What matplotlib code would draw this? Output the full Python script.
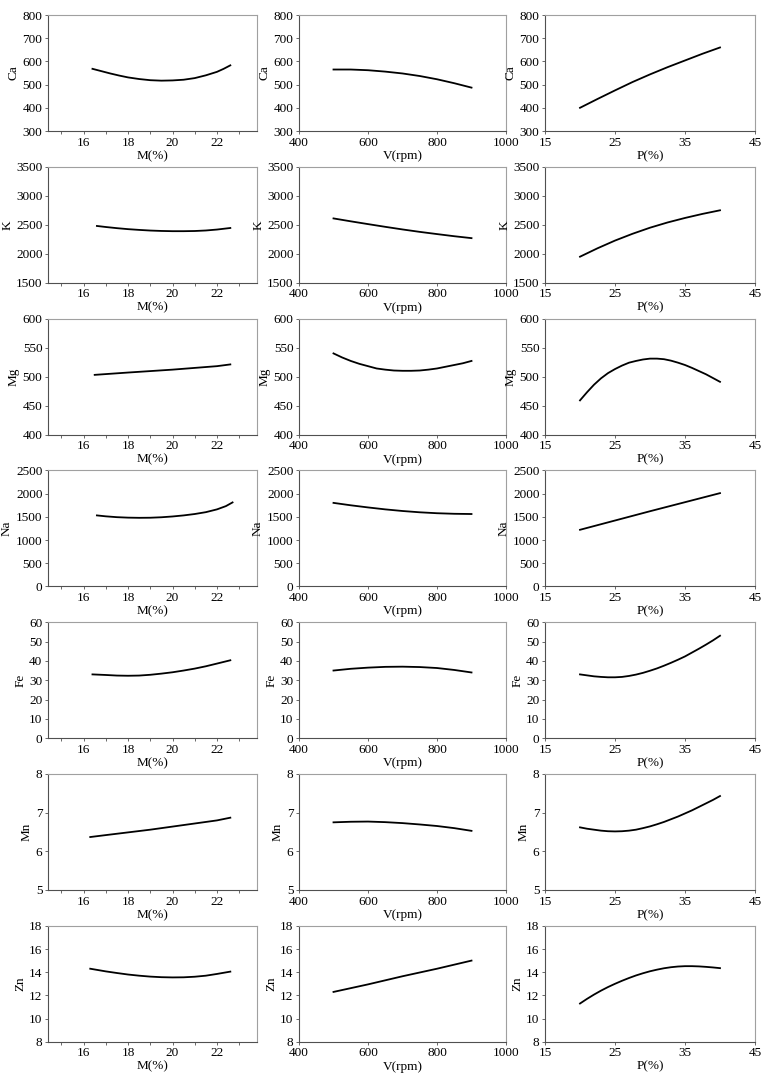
import numpy as np
import matplotlib.pyplot as plt
from matplotlib.ticker import MultipleLocator

plt.rcParams['font.family'] = ['Liberation Serif', 'DejaVu Serif']
plt.rcParams['font.size'] = 9.5

# values
m_ca = [16.4, 16.8, 17.2, 17.6, 18, 18.5, 19, 19.5, 20, 20.5, 21, 21.5, 22, 22.3, 22.6]
ca_m = [568, 558, 548, 539, 531, 524, 519, 517, 518, 521, 528, 540, 555, 568, 583]
v_ca = [500, 550, 600, 650, 700, 750, 800, 850, 900]
ca_v = [565, 565, 562, 556, 548, 537, 523, 506, 487]
p_ca = [20, 22.5, 25, 27.5, 30, 32.5, 35, 37.5, 40]
ca_p = [400, 438, 475, 511, 544, 575, 604, 633, 660]

m_k = [16.6, 17, 17.5, 18, 18.5, 19, 19.5, 20, 20.5, 21, 21.5, 22, 22.6]
k_m = [2480, 2462, 2442, 2425, 2412, 2401, 2394, 2390, 2390, 2393, 2402, 2418, 2445]
v_k = [500, 550, 600, 650, 700, 750, 800, 850, 900]
k_v = [2610, 2560, 2512, 2465, 2420, 2378, 2340, 2303, 2270]
p_k = [20, 22.5, 25, 27.5, 30, 32.5, 35, 37.5, 40]
k_p = [1950, 2095, 2228, 2345, 2450, 2540, 2618, 2688, 2750]

m_mg = [16.5, 18, 20, 22, 22.6]
mg_m = [503, 507, 512, 518, 521]
v_mg = [500, 525, 550, 575, 600, 625, 650, 675, 700, 725, 750, 775, 800, 825, 850, 875, 900]
mg_v = [540, 533, 527, 522, 518, 514, 512, 510.5, 510, 510, 510.5, 512, 514, 517, 520, 523, 527]
p_mg = [20, 21, 22, 23, 24, 25, 26, 27, 28, 29, 30, 31, 32, 33, 34, 35, 36, 37, 38, 39, 40]
mg_p = [459, 473, 486, 497, 506, 513, 519, 524, 527, 529.5, 531, 531, 530, 527.5, 524, 520, 515, 509.5, 504, 497.5, 491]

m_na = [16.6, 17, 17.5, 18, 18.5, 19, 19.5, 20, 20.5, 21, 21.5, 22, 22.4, 22.7]
na_m = [1530, 1510, 1492, 1482, 1478, 1480, 1490, 1507, 1530, 1560, 1600, 1660, 1730, 1810]
v_na = [500, 550, 600, 650, 700, 750, 800, 850, 900]
na_v = [1800, 1748, 1702, 1660, 1625, 1597, 1577, 1565, 1560]
p_na = [20, 30, 40]
na_p = [1220, 1620, 2010]

m_fe = [16.4, 17, 17.5, 18, 18.5, 19, 19.5, 20, 20.5, 21, 21.5, 22, 22.6]
fe_m = [33.0, 32.7, 32.4, 32.3, 32.4, 32.8, 33.4, 34.1, 35.0, 36.0, 37.2, 38.6, 40.3]
v_fe = [500, 550, 600, 650, 700, 750, 800, 850, 900]
fe_v = [35.0, 35.9, 36.5, 36.9, 37.0, 36.8, 36.3, 35.3, 34.0]
p_fe = [20, 21, 22, 23, 24, 25, 26, 27, 28, 29, 30, 31, 32, 33, 34, 35, 36, 37, 38, 39, 40]
fe_p = [33.0, 32.5, 32.0, 31.7, 31.5, 31.5, 31.7, 32.2, 32.9, 33.8, 34.9, 36.1, 37.5, 39.0, 40.6, 42.3, 44.3, 46.3, 48.4, 50.6, 53.0]

m_mn = [16.3, 17, 18, 19, 20, 21, 22, 22.6]
mn_m = [6.37, 6.42, 6.49, 6.56, 6.64, 6.72, 6.80, 6.87]
v_mn = [500, 550, 600, 650, 700, 750, 800, 850, 900]
mn_v = [6.75, 6.765, 6.77, 6.755, 6.73, 6.695, 6.655, 6.60, 6.53]
p_mn = [20, 21, 22, 23, 24, 25, 26, 27, 28, 29, 30, 31, 32, 33, 34, 35, 36, 37, 38, 39, 40]
mn_p = [6.62, 6.585, 6.56, 6.535, 6.52, 6.515, 6.52, 6.535, 6.56, 6.60, 6.645, 6.70, 6.76, 6.83, 6.90, 6.98, 7.06, 7.15, 7.24, 7.33, 7.43]

m_zn = [16.3, 17, 17.5, 18, 18.5, 19, 19.5, 20, 20.5, 21, 21.5, 22, 22.6]
zn_m = [14.3, 14.07, 13.93, 13.8, 13.7, 13.62, 13.57, 13.55, 13.56, 13.61, 13.7, 13.85, 14.05]
v_zn = [500, 600, 700, 800, 900]
zn_v = [12.3, 12.95, 13.65, 14.3, 15.0]
p_zn = [20, 21, 22, 23, 24, 25, 26, 27, 28, 29, 30, 31, 32, 33, 34, 35, 36, 37, 38, 39, 40]
zn_p = [11.3, 11.7, 12.07, 12.41, 12.72, 13.0, 13.26, 13.5, 13.72, 13.91, 14.08, 14.22, 14.34, 14.43, 14.49, 14.52, 14.52, 14.5, 14.46, 14.41, 14.35]

elements = ['Ca', 'K', 'Mg', 'Na', 'Fe', 'Mn', 'Zn']
ylims = [(300, 800), (1500, 3500), (400, 600), (0, 2500), (0, 60), (5, 8), (8, 18)]
ysteps = [100, 500, 50, 500, 10, 1, 2]
curves = [
    [(m_ca, ca_m), (v_ca, ca_v), (p_ca, ca_p)],
    [(m_k, k_m), (v_k, k_v), (p_k, k_p)],
    [(m_mg, mg_m), (v_mg, mg_v), (p_mg, mg_p)],
    [(m_na, na_m), (v_na, na_v), (p_na, na_p)],
    [(m_fe, fe_m), (v_fe, fe_v), (p_fe, fe_p)],
    [(m_mn, mn_m), (v_mn, mn_v), (p_mn, mn_p)],
    [(m_zn, zn_m), (v_zn, zn_v), (p_zn, zn_p)],
]
xlabels = ['M(%)', 'V(rpm)', 'P(%)']

W, H = 781, 1082
fig = plt.figure(figsize=(W / 100, H / 100), dpi=100)
lefts = [48, 299, 545]
widths = [209, 207, 210]
ax_h = 116
row_top0 = 15
row_step = 151.8

for r in range(7):
    for c in range(3):
        top = row_top0 + r * row_step
        ax = fig.add_axes([lefts[c] / W, 1 - (top + ax_h) / H, widths[c] / W, ax_h / H])
        x, y = curves[r][c]
        ax.plot(x, y, color='black', lw=1.3, solid_joinstyle='round')
        ax.set_ylim(*ylims[r])
        ax.yaxis.set_major_locator(MultipleLocator(ysteps[r]))
        if c == 0:
            ax.set_xlim(14.4, 23.8)
            ax.set_xticks([16, 18, 20, 22])
            ax.xaxis.set_minor_locator(MultipleLocator(1))
        elif c == 1:
            ax.set_xlim(400, 1000)
            ax.set_xticks([400, 600, 800, 1000])
        else:
            ax.set_xlim(15, 45)
            ax.set_xticks([15, 25, 35, 45])
        ax.set_xlabel(xlabels[c], labelpad=1)
        ax.set_ylabel(elements[r], labelpad=2)
        for s in ['top', 'right']:
            ax.spines[s].set_color('#a0a0a0')
            ax.spines[s].set_linewidth(0.8)
        for s in ['left', 'bottom']:
            ax.spines[s].set_color('#505050')
            ax.spines[s].set_linewidth(0.8)
        ax.tick_params(which='both', direction='out', length=2.5, width=0.6, pad=1.5, color='#505050')
        ax.tick_params(which='minor', length=2)

fig.savefig('out.png', dpi=100)
